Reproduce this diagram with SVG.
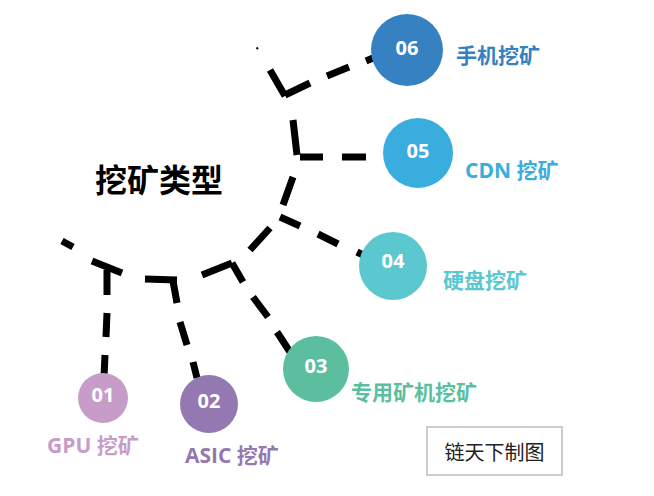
<svg xmlns="http://www.w3.org/2000/svg" width="654" height="496" viewBox="0 0 654 496">
<style>
.c{fill:none;stroke:#000;stroke-width:7;stroke-linecap:butt}
.num{font-family:"Open Sans","Noto Sans","Noto Sans CJK SC",sans-serif;font-weight:700;font-size:20px;fill:#fff;text-anchor:middle;dominant-baseline:central}
.lbl{font-family:"Open Sans","Noto Sans CJK SC",sans-serif;font-weight:700;font-size:21px;dominant-baseline:central}
</style>
<rect width="654" height="496" fill="#fff"/>
<g id="connectors">
<path class="c" d="M270,70 L285,96 M293,120 L297,155 M293,177 L283,205 M270,228 L250,250 M232,263 L202,275 M177,280 L145,279 M122,273 L92,261 M73,247 L62,241"/>
<path d="M256.5,47.5 L258,49" stroke="#000" stroke-width="2"/>
<path class="c" d="M285,95 L310,83 M327,76 L349,67 M366,61 L373,58"/>
<path class="c" d="M300,157 L323,157 M342,157 L366,157"/>
<path class="c" d="M280,217 L300,226 M318,234 L338,244 M357,252 L363,255"/>
<path class="c" d="M232,263 L243,282 M253,297 L268,317 M277,332 L290,352"/>
<path class="c" d="M173,281 L177,303 M180,322 L187,345 M193,362 L197,378"/>
<path class="c" d="M107,270 L107,295 M107,313 L106,337 M105,355 L104,377"/>
</g>
<g id="title"><text x="95" y="178" font-family="Noto Sans CJK SC,sans-serif" font-weight="700" font-size="32" dominant-baseline="central" fill="#000">挖矿类型</text></g>
<g id="n06"><circle cx="407" cy="50" r="36" fill="#3581c1"/><text class="num" x="407" y="47">06</text><text class="lbl" x="456" y="55" fill="#3581c1">手机挖矿</text></g>
<g id="n05"><circle cx="418" cy="153" r="35" fill="#3aaddf"/><text class="num" x="418" y="150">05</text><text class="lbl" x="465" y="170" fill="#3aaddf">CDN 挖矿</text></g>
<g id="n04"><circle cx="393" cy="266" r="34" fill="#5bc8d0"/><text class="num" x="393" y="260">04</text><text class="lbl" x="443" y="280" fill="#5bc8d0">硬盘挖矿</text></g>
<g id="n03"><circle cx="316" cy="369" r="33" fill="#5bbf9f"/><text class="num" x="316" y="365">03</text><text class="lbl" x="351" y="392" fill="#5bbf9f">专用矿机挖矿</text></g>
<g id="n02"><circle cx="209" cy="404" r="29" fill="#9478b2"/><text class="num" x="209" y="400">02</text><text class="lbl" x="185" y="455" fill="#9478b2">ASIC 挖矿</text></g>
<g id="n01"><circle cx="103" cy="398" r="25" fill="#c89cc8"/><text class="num" x="103" y="394">01</text><text class="lbl" x="47" y="445" fill="#c89cc8">GPU 挖矿</text></g>
<g id="watermark"><rect x="427" y="427" width="135" height="48" fill="#fff" stroke="#cccccc" stroke-width="2"/><text x="494.5" y="451" font-family="Noto Sans CJK SC,sans-serif" font-size="20" text-anchor="middle" dominant-baseline="central" fill="#222">链天下制图</text></g>
</svg>
